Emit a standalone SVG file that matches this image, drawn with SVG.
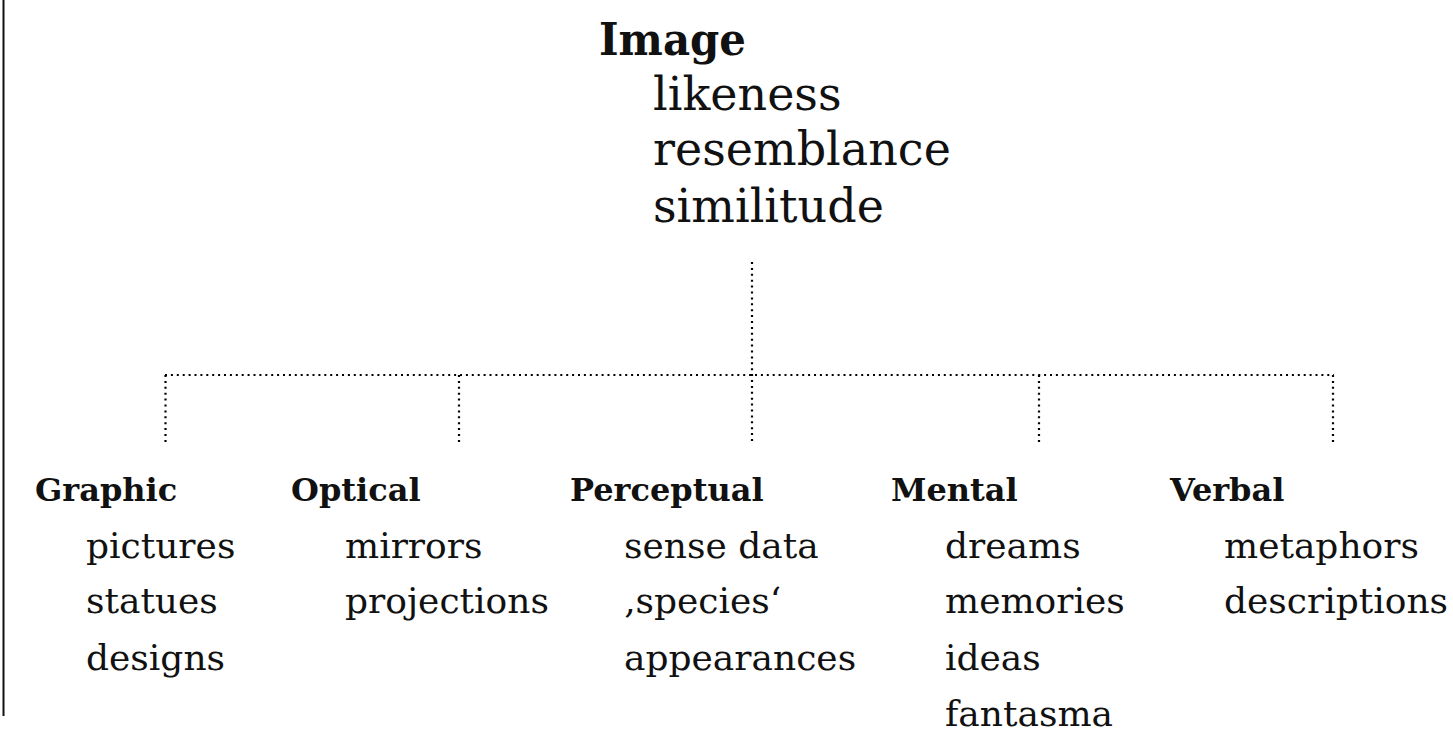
<svg xmlns="http://www.w3.org/2000/svg" width="1453" height="734" viewBox="0 0 1453 734">
<style>
.t{font-family:"DejaVu Serif","Liberation Serif",serif;fill:#111}
.h{font-size:45px;font-weight:bold}
.u{font-size:46px}
.b{font-size:32px;font-weight:bold}
.r{font-size:36px}
.dot{stroke:#000;stroke-width:2.2;stroke-dasharray:2 3.9;fill:none}
</style>
<rect x="0" y="0" width="1453" height="734" fill="#fff"/>
<line x1="3.5" y1="0" x2="3.5" y2="716" stroke="#111" stroke-width="2"/>
<g id="connectors">
<line class="dot" x1="752" y1="262" x2="752" y2="443"/>
<line class="dot" x1="165" y1="375" x2="1334" y2="375"/>
<line class="dot" x1="165.5" y1="375" x2="165.5" y2="443"/>
<line class="dot" x1="459" y1="375" x2="459" y2="443"/>
<line class="dot" x1="1039" y1="375" x2="1039" y2="443"/>
<line class="dot" x1="1333" y1="375" x2="1333" y2="443"/>
</g>
<g id="image">
<text class="t h" x="599" y="55" textLength="147" lengthAdjust="spacingAndGlyphs">Image</text>
<text class="t u" x="653" y="110">likeness</text>
<text class="t u" x="653" y="165">resemblance</text>
<text class="t u" x="653" y="222">similitude</text>
</g>
<g id="graphic">
<text class="t b" x="35" y="501">Graphic</text>
<text class="t r" x="86" y="558">pictures</text>
<text class="t r" x="86" y="613">statues</text>
<text class="t r" x="86" y="670">designs</text>
</g>
<g id="optical">
<text class="t b" x="291" y="501">Optical</text>
<text class="t r" x="345" y="558">mirrors</text>
<text class="t r" x="345" y="613">projections</text>
</g>
<g id="perceptual">
<text class="t b" x="570" y="501">Perceptual</text>
<text class="t r" x="624" y="558">sense data</text>
<text class="t r" x="624" y="613">‚species‘</text>
<text class="t r" x="624" y="670">appearances</text>
</g>
<g id="mental">
<text class="t b" x="891" y="501">Mental</text>
<text class="t r" x="945" y="558">dreams</text>
<text class="t r" x="945" y="613">memories</text>
<text class="t r" x="945" y="670">ideas</text>
<text class="t r" x="945" y="726">fantasma</text>
</g>
<g id="verbal">
<text class="t b" x="1170" y="501">Verbal</text>
<text class="t r" x="1224" y="558">metaphors</text>
<text class="t r" x="1224" y="613">descriptions</text>
</g>
</svg>
